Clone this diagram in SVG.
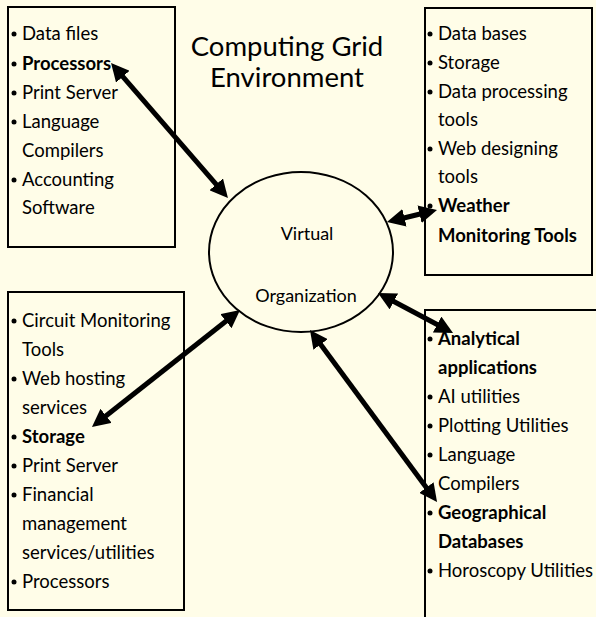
<svg xmlns="http://www.w3.org/2000/svg" width="596" height="617" viewBox="0 0 596 617">
  <defs>
    <marker id="head" markerUnits="userSpaceOnUse" markerWidth="18" markerHeight="18" viewBox="0 0 18 18" refX="8" refY="9" orient="auto-start-reverse">
      <path d="M0,0 L18,9 L0,18 z" fill="#000"/>
    </marker>
  </defs>
  <style>
    .box { fill: none; stroke: #000; stroke-width: 2; }
    .t { font-family: Lato, "Liberation Sans", sans-serif; font-size: 18.5px; fill: #000; }
    .b { font-weight: bold; }
    .title { font-family: Lato, "Liberation Sans", sans-serif; font-size: 27.5px; fill: #000; text-anchor: middle; }
    .c { font-family: Lato, "Liberation Sans", sans-serif; font-size: 18px; fill: #000; text-anchor: middle; }
    .dot { fill: #000; }
    .arrow { stroke: #000; stroke-width: 5; fill: none; marker-start: url(#head); marker-end: url(#head); }
  </style>
  <rect width="596" height="617" fill="#FFFDE8"/>

  <g id="title">
    <text class="title" x="287" y="56">Computing Grid</text>
    <text class="title" x="287" y="87">Environment</text>
  </g>

  <g id="virtual-organization">
    <ellipse cx="301" cy="252" rx="92" ry="80" fill="none" stroke="#000" stroke-width="2"/>
    <text class="c" x="307" y="240">Virtual</text>
    <text class="c" x="306" y="302">Organization</text>
  </g>

  <g id="box-top-left">
    <rect class="box" x="8" y="7" width="167" height="240"/>
    <circle class="dot" cx="14" cy="34" r="2.5"/>
    <text class="t" x="22" y="40">Data files</text>
    <circle class="dot" cx="14" cy="64" r="2.5"/>
    <text class="t b" x="22" y="70">Processors</text>
    <circle class="dot" cx="14" cy="93" r="2.5"/>
    <text class="t" x="22" y="99">Print Server</text>
    <circle class="dot" cx="14" cy="122" r="2.5"/>
    <text class="t" x="22" y="128">Language</text>
    <text class="t" x="22" y="157">Compilers</text>
    <circle class="dot" cx="14" cy="180" r="2.5"/>
    <text class="t" x="22" y="186">Accounting</text>
    <text class="t" x="22" y="214">Software</text>
  </g>

  <g id="box-top-right">
    <rect class="box" x="425" y="8" width="167" height="267"/>
    <circle class="dot" cx="430" cy="34" r="2.5"/>
    <text class="t" x="438" y="40">Data bases</text>
    <circle class="dot" cx="430" cy="63" r="2.5"/>
    <text class="t" x="438" y="69">Storage</text>
    <circle class="dot" cx="430" cy="92" r="2.5"/>
    <text class="t" x="438" y="98">Data processing</text>
    <text class="t" x="438" y="126">tools</text>
    <circle class="dot" cx="430" cy="149" r="2.5"/>
    <text class="t" x="438" y="155">Web designing</text>
    <text class="t" x="438" y="183">tools</text>
    <circle class="dot" cx="430" cy="206" r="2.5"/>
    <text class="t b" x="438" y="212">Weather</text>
    <text class="t b" x="438" y="242">Monitoring Tools</text>
  </g>

  <g id="box-bottom-left">
    <rect class="box" x="8" y="292" width="176" height="318"/>
    <circle class="dot" cx="14" cy="321" r="2.5"/>
    <text class="t" x="22" y="327">Circuit Monitoring</text>
    <text class="t" x="22" y="356">Tools</text>
    <circle class="dot" cx="14" cy="379" r="2.5"/>
    <text class="t" x="22" y="385">Web hosting</text>
    <text class="t" x="22" y="414">services</text>
    <circle class="dot" cx="14" cy="437" r="2.5"/>
    <text class="t b" x="22" y="443">Storage</text>
    <circle class="dot" cx="14" cy="466" r="2.5"/>
    <text class="t" x="22" y="472">Print Server</text>
    <circle class="dot" cx="14" cy="495" r="2.5"/>
    <text class="t" x="22" y="501">Financial</text>
    <text class="t" x="22" y="530">management</text>
    <text class="t" x="22" y="559">services/utilities</text>
    <circle class="dot" cx="14" cy="582" r="2.5"/>
    <text class="t" x="22" y="588">Processors</text>
  </g>

  <g id="box-bottom-right">
    <rect class="box" x="425" y="310" width="200" height="400"/>
    <circle class="dot" cx="430" cy="339" r="2.5"/>
    <text class="t b" x="438" y="345">Analytical</text>
    <text class="t b" x="438" y="374">applications</text>
    <circle class="dot" cx="430" cy="397" r="2.5"/>
    <text class="t" x="438" y="403">AI utilities</text>
    <circle class="dot" cx="430" cy="426" r="2.5"/>
    <text class="t" x="438" y="432">Plotting Utilities</text>
    <circle class="dot" cx="430" cy="455" r="2.5"/>
    <text class="t" x="438" y="461">Language</text>
    <text class="t" x="438" y="490">Compilers</text>
    <circle class="dot" cx="430" cy="513" r="2.5"/>
    <text class="t b" x="438" y="519">Geographical</text>
    <text class="t b" x="438" y="548">Databases</text>
    <circle class="dot" cx="430" cy="571" r="2.5"/>
    <text class="t" x="438" y="577">Horoscopy Utilities</text>
  </g>

  <g id="connectors">
    <line class="arrow" x1="117.6" y1="70.6" x2="221.4" y2="190.4"/>
    <line class="arrow" x1="396.7" y1="219.7" x2="427.3" y2="212.3"/>
    <line class="arrow" x1="386.8" y1="297.7" x2="444.2" y2="328.3"/>
    <line class="arrow" x1="315.9" y1="338.0" x2="431.1" y2="494.0"/>
    <line class="arrow" x1="232.2" y1="316.2" x2="99.8" y2="420.8"/>
  </g>
</svg>
